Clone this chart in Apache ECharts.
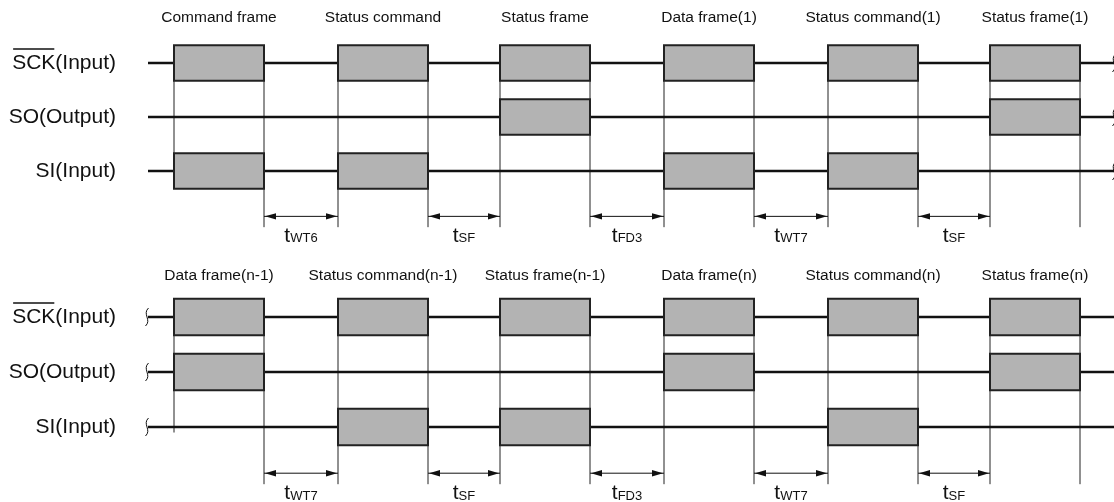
<!DOCTYPE html>
<html><head><meta charset="utf-8">
<script src="https://cdn.jsdelivr.net/npm/echarts@6/dist/echarts.min.js"></script>
<style>html,body{margin:0;padding:0;background:#fff}#c{width:1114px;height:502px}</style>
</head><body><div id="c"></div>
<script>
// ---- data (time in arbitrary units) ----
const frameStart = [0, 16.4, 32.6, 49.0, 65.4, 81.6];
const frameEnd   = [9.0, 25.4, 41.6, 58.0, 74.4, 90.6];
const signalNames = ['SCK(Input)', 'SO(Output)', 'SI(Input)'];
const topFrameNames = ['Command frame', 'Status command', 'Status frame', 'Data frame(1)', 'Status command(1)', 'Status frame(1)'];
const bottomFrameNames = ['Data frame(n-1)', 'Status command(n-1)', 'Status frame(n-1)', 'Data frame(n)', 'Status command(n)', 'Status frame(n)'];
const topSCK = [1, 1, 1, 1, 1, 1];
const topSO  = [0, 0, 1, 0, 0, 1];
const topSI  = [1, 1, 0, 1, 1, 0];
const bottomSCK = [1, 1, 1, 1, 1, 1];
const bottomSO  = [1, 0, 0, 1, 0, 1];
const bottomSI  = [0, 1, 1, 0, 1, 0];
const topGapSubs = ['WT6', 'SF', 'FD3', 'WT7', 'SF'];
const bottomGapSubs = ['WT7', 'SF', 'FD3', 'WT7', 'SF'];
const timeMin = -2.6, timeMax = 94.0;

// ---- layout / style ----
const FONT = '"Liberation Sans", Arial, Helvetica, sans-serif';
const BOX_H = 0.33;
const ARROW_ROW = 2.84;
const EDGE_EXT = 0.2;
const GAP_LABEL_ROW = 3.2;
const ROW_LABEL_T = timeMin - 3.2;
const INK = '#111';

const mctx = document.createElement('canvas').getContext('2d');
mctx.font = '21px ' + FONT;

function diagramSeries(g, names, sck, so, si, gapSubs, leftSquiggle, rightSquiggle, frameLabelRow) {
  const active = [sck, so, si];
  const ax = { xAxisIndex: g, yAxisIndex: g, silent: true, animation: false, clip: false };
  const series = [];
  // frame edge verticals
  series.push(Object.assign({
    type: 'custom', z: 1,
    data: frameStart.map((s, i) => [s, frameEnd[i]]),
    renderItem: (p, api) => {
      const i = p.dataIndex;
      const s = api.value(0), e = api.value(1);
      const top = api.coord([s, -BOX_H])[1];
      const lb = api.coord([s, i === 0 ? 2.1 : ARROW_ROW + EDGE_EXT])[1];
      const rb = api.coord([e, ARROW_ROW + EDGE_EXT])[1];
      const xl = api.coord([s, 0])[0], xr = api.coord([e, 0])[0];
      return { type: 'group', children: [
        { type: 'line', shape: { x1: xl, y1: top, x2: xl, y2: lb }, style: { stroke: '#222', lineWidth: 1 } },
        { type: 'line', shape: { x1: xr, y1: top, x2: xr, y2: rb }, style: { stroke: '#222', lineWidth: 1 } }
      ] };
    }
  }, ax));
  // signal lines
  series.push(Object.assign({
    type: 'custom', z: 2,
    data: [[0], [1], [2]],
    renderItem: (p, api) => {
      const r = api.value(0);
      const a = api.coord([timeMin, r]), b = api.coord([timeMax, r]);
      const ch = [{ type: 'line', shape: { x1: a[0], y1: a[1], x2: b[0], y2: b[1] }, style: { stroke: INK, lineWidth: 2.6 } }];
      const sq = (x, y) => ({ type: 'bezierCurve', shape: { x1: x + 1.5, y1: y - 9, x2: x - 1.5, y2: y + 9, cpx1: x - 5, cpy1: y - 3, cpx2: x + 5, cpy2: y + 3 }, style: { stroke: INK, lineWidth: 1, fill: null } });
      if (leftSquiggle) ch.push(sq(a[0] - 1, a[1]));
      if (rightSquiggle) ch.push(sq(b[0], b[1]));
      return { type: 'group', children: ch };
    }
  }, ax));
  // boxes
  const boxes = [];
  active.forEach((arr, r) => arr.forEach((v, i) => { if (v) boxes.push([frameStart[i], frameEnd[i], r]); }));
  series.push(Object.assign({
    type: 'custom', z: 3,
    data: boxes,
    renderItem: (p, api) => {
      const a = api.coord([api.value(0), api.value(2) - BOX_H]);
      const b = api.coord([api.value(1), api.value(2) + BOX_H]);
      return { type: 'rect', shape: { x: a[0], y: a[1], width: b[0] - a[0], height: b[1] - a[1] },
        style: { fill: '#b3b3b3', stroke: '#222', lineWidth: 2 } };
    }
  }, ax));
  // gap arrows + labels
  series.push(Object.assign({
    type: 'custom', z: 3,
    data: gapSubs.map((s, i) => [frameEnd[i], frameStart[i + 1]]),
    renderItem: (p, api) => {
      const a = api.coord([api.value(0), ARROW_ROW]);
      const b = api.coord([api.value(1), ARROW_ROW]);
      const lab = api.coord([(api.value(0) + api.value(1)) / 2, GAP_LABEL_ROW]);
      const hl = 12, hw = 3.2, y = a[1];
      return { type: 'group', children: [
        { type: 'line', shape: { x1: a[0], y1: y, x2: b[0], y2: y }, style: { stroke: INK, lineWidth: 1 } },
        { type: 'polygon', shape: { points: [[a[0] + 1, y], [a[0] + hl, y - hw], [a[0] + hl, y + hw]] }, style: { fill: INK } },
        { type: 'polygon', shape: { points: [[b[0] - 1, y], [b[0] - hl, y - hw], [b[0] - hl, y + hw]] }, style: { fill: INK } },
        { type: 'text', x: lab[0], y: lab[1], style: {
          text: '{t|t}{s|' + gapSubs[p.dataIndex] + '}',
          align: 'center', textAlign: 'center', verticalAlign: 'middle', textVerticalAlign: 'middle',
          rich: {
            t: { fontSize: 21, fontFamily: FONT, fill: INK, lineHeight: 21, verticalAlign: 'bottom' },
            s: { fontSize: 13, fontFamily: FONT, fill: INK, lineHeight: 13, verticalAlign: 'bottom', padding: [0, 0, 1, 0] }
          } } }
      ] };
    }
  }, ax));
  // frame labels
  series.push(Object.assign({
    type: 'custom', z: 4,
    data: names.map((n, i) => [(frameStart[i] + frameEnd[i]) / 2]),
    renderItem: (p, api) => {
      const c = api.coord([api.value(0), frameLabelRow]);
      return { type: 'text', x: c[0], y: c[1], style: { text: names[p.dataIndex], fontSize: 15.5, fontFamily: FONT, fill: INK,
        align: 'center', textAlign: 'center', verticalAlign: 'middle', textVerticalAlign: 'middle' } };
    }
  }, ax));
  // row labels
  series.push(Object.assign({
    type: 'custom', z: 4,
    data: [[0], [1], [2]],
    renderItem: (p, api) => {
      const r = api.value(0);
      const c = api.coord([ROW_LABEL_T, r]);
      const txt = signalNames[r];
      const ch = [{ type: 'text', x: c[0], y: c[1], style: { text: txt, fontSize: 21, fontFamily: FONT, fill: INK,
        align: 'right', textAlign: 'right', verticalAlign: 'middle', textVerticalAlign: 'middle' } }];
      if (r === 0) {
        const wFull = mctx.measureText(txt).width, wS = mctx.measureText('SCK').width;
        const x0 = c[0] - wFull;
        ch.push({ type: 'line', shape: { x1: x0 + 1, y1: c[1] - 14, x2: x0 + wS - 1, y2: c[1] - 14 }, style: { stroke: INK, lineWidth: 1.3 } });
      }
      return { type: 'group', children: ch };
    }
  }, ax));
  return series;
}

const chart = echarts.init(document.getElementById('c'), null, { renderer: 'canvas' });
const xAx = (g) => ({ type: 'value', gridIndex: g, min: timeMin, max: timeMax, show: false });
chart.setOption({
  backgroundColor: '#fff',
  animation: false,
  grid: [
    { left: 148, right: 0, top: 9, height: 243 },
    { left: 148, right: 0, top: 262, height: 236.5 }
  ],
  xAxis: [xAx(0), xAx(1)],
  yAxis: [
    { type: 'value', gridIndex: 0, min: -1, max: 3.5, inverse: true, show: false },
    { type: 'value', gridIndex: 1, min: -1, max: 3.3, inverse: true, show: false }
  ],
  series: [].concat(
    diagramSeries(0, topFrameNames, topSCK, topSO, topSI, topGapSubs, false, true, -0.83),
    diagramSeries(1, bottomFrameNames, bottomSCK, bottomSO, bottomSI, bottomGapSubs, true, false, -0.75)
  )
});
</script>
</body></html>
